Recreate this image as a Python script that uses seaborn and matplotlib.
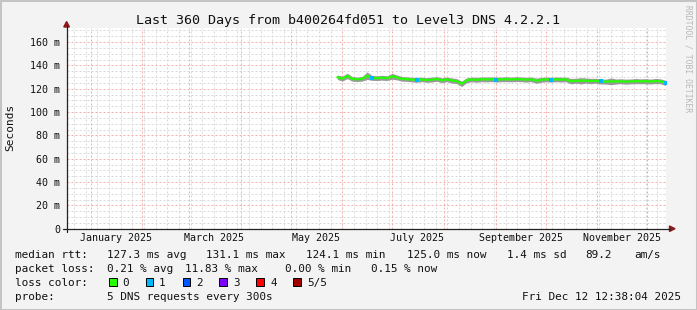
import numpy as np
import pandas as pd
import matplotlib
matplotlib.use("Agg")
import matplotlib.pyplot as plt
from matplotlib.patches import Rectangle, Polygon
from matplotlib.lines import Line2D
import seaborn as sns

# ---------------- data ----------------
title = "Last 360 Days from b400264fd051 to Level3 DNS 4.2.2.1"
period_start = "2024-12-17 12:38:04"
period_end = "2025-12-12 12:38:04"
data_start = "2025-05-29"
data_end = "2025-12-12"

median_ms = [129.8, 128.6, 130.9, 128.4, 128.0, 128.5, 131.1, 129.2, 129.0, 129.4,
             129.0, 130.6, 129.6, 128.4, 128.2, 127.8, 127.6, 127.9, 127.4, 127.8,
             128.3, 127.2, 128.0, 127.0, 126.5, 124.1, 127.2, 127.9, 127.6, 128.0,
             127.9, 128.1, 127.8, 128.0, 128.1, 127.9, 128.2, 128.0, 127.7, 128.0,
             126.8, 127.6, 127.9, 127.7, 128.0, 127.8, 127.9, 126.4, 126.9, 126.7,
             127.0, 126.5, 126.8, 126.2, 126.0, 126.3, 126.1, 126.4, 126.0, 126.2,
             126.5, 126.3, 126.4, 126.1, 126.6, 126.3, 125.0]
smoke_ms = [1.9, 2.1, 2.3, 2.0, 1.9, 2.0, 3.2, 2.1, 2.0, 2.1,
            2.0, 2.5, 2.1, 2.0, 1.9, 2.0, 2.1, 1.9, 2.0, 2.1,
            2.0, 2.1, 2.0, 2.2, 2.1, 2.3, 2.1, 2.0, 2.1, 2.0,
            2.1, 2.0, 2.1, 2.0, 2.1, 2.0, 2.1, 2.0, 2.1, 2.0,
            2.2, 2.1, 2.0, 2.1, 2.0, 2.1, 2.0, 2.3, 2.1, 2.7,
            2.2, 2.3, 2.1, 2.2, 2.1, 2.9, 2.2, 2.1, 2.2, 2.1,
            2.2, 2.1, 2.2, 2.1, 2.2, 2.1, 2.3]
loss_level = [0, 0, 0, 0, 0, 0, 0, 1, 0, 0,
              0, 0, 0, 0, 0, 0, 1, 0, 0, 0,
              0, 0, 0, 0, 0, 0, 0, 0, 0, 0,
              0, 0, 1, 0, 0, 0, 0, 0, 0, 0,
              0, 0, 0, 1, 0, 0, 0, 0, 0, 0,
              0, 0, 0, 1, 0, 0, 0, 0, 0, 0,
              0, 0, 0, 0, 0, 0, 1]

ytick_vals = [0, 20, 40, 60, 80, 100, 120, 140, 160]
ytick_labels = ["0", "20 m", "40 m", "60 m", "80 m", "100 m", "120 m", "140 m", "160 m"]
xtick_dates = ["2025-01-16", "2025-03-16", "2025-05-16", "2025-07-16", "2025-09-16", "2025-11-16"]
xtick_labels = ["January 2025", "March 2025", "May 2025", "July 2025", "September 2025", "November 2025"]

loss_names = ["0", "1", "2", "3", "4", "5/5"]
loss_colors = ["#26ff00", "#00b8ff", "#0059ff", "#7e00ff", "#ff0000", "#a00000"]

row_rtt = [("median rtt:", 16), ("127.3 ms avg", 107.7), ("131.1 ms max", 207.5),
           ("124.1 ms min", 307.5), ("125.0 ms now", 407.7), ("1.4 ms sd", 507.7),
           ("89.2", 586.5), ("am/s", 635)]
row_loss = [("packet loss:", 16), ("0.21 % avg", 107.7), ("11.83 % max", 186.5),
            ("0.00 % min", 286), ("0.15 % now", 372.3)]
row_probe = [("probe:", 16), ("5 DNS requests every 300s", 107.7)]
stamp = "Fri Dec 12 12:38:04 2025"
watermark = "RRDTOOL / TOBI OETIKER"

# ---------------- figure ----------------
W, H = 697, 310
sns.set_theme(style="white")
MONO = ["DejaVu Sans Mono", "DejaVu Sans"]
plt.rcParams["font.family"] = MONO

fig = plt.figure(figsize=(W / 100, H / 100), dpi=100, facecolor="#f3f3f3")

def fx(x):
    return x / W

def fy(y):
    return 1 - y / H

x_left, x_right = 66.6, 666.4
y_bottom, y_top = 228.7, 28.0
ax = fig.add_axes([fx(x_left), fy(y_bottom), (x_right - x_left) / W, (y_bottom - y_top) / H])
ax.set_facecolor("white")
for s in ax.spines.values():
    s.set_visible(False)

t0 = pd.Timestamp(period_start)
t1 = pd.Timestamp(period_end)
ax.set_xlim(t0, t1)
ax.set_ylim(0, 172)

# grid (dotted)
gkw = dict(lw=0.72, ls=(0, (2, 2)))
for d in pd.date_range("2024-12-22", "2025-12-12", freq="7D"):
    ax.axvline(d, color="#d9d9d9", zorder=0, **gkw)
for v in range(5, 172, 5):
    if v % 20:
        ax.axhline(v, color="#d9d9d9", zorder=0, **gkw)
for d in pd.date_range("2025-01-01", "2025-12-01", freq="MS"):
    ax.axvline(d, color="#f4b0b0", zorder=0.5, **gkw)
for v in range(20, 172, 20):
    ax.axhline(v, color="#f4b0b0", zorder=0.5, **gkw)

# data
dates = pd.date_range(data_start, data_end, periods=len(median_ms))
df = pd.DataFrame({"date": dates, "median": median_ms, "smoke": smoke_ms, "loss": loss_level})
ax.fill_between(df["date"], df["median"] - df["smoke"], df["median"] + df["smoke"],
                color="#999999", lw=0, zorder=2)
sns.lineplot(data=df, x="date", y="median", ax=ax, color=loss_colors[0], lw=1.6, zorder=3)
lossy = df[df["loss"] > 0]
sns.scatterplot(data=lossy, x="date", y="median", ax=ax, color=loss_colors[1], marker="s",
                s=7, linewidth=0, zorder=4)
ax.set_xlabel("")
ax.set_ylabel("")

# ticks
ax.set_yticks(ytick_vals)
ax.set_yticklabels(ytick_labels)
ax.set_xticks([pd.Timestamp(d) for d in xtick_dates])
ax.set_xticklabels(xtick_labels)
ax.tick_params(axis="y", length=0, pad=4.5, labelsize=7.2, labelcolor="#111111")
ax.tick_params(axis="x", length=0, pad=3.0, labelsize=7.2, labelcolor="#111111")

# axes lines with arrows
fig.add_artist(Line2D([fx(63), fx(670)], [fy(228.7), fy(228.7)], color="#222222", lw=0.9))
fig.add_artist(Line2D([fx(66.6), fx(66.6)], [fy(232), fy(26)], color="#222222", lw=0.9))
fig.add_artist(Polygon([[fx(669.5), fy(226)], [fx(669.5), fy(231.5)], [fx(675), fy(228.7)]],
                       closed=True, color="#8b1a1a"))
fig.add_artist(Polygon([[fx(63.8), fy(27)], [fx(69.4), fy(27)], [fx(66.6), fy(21.5)]],
                       closed=True, color="#8b1a1a"))

# texts
fig.text(fx(348.5), fy(24), title, ha="center", va="baseline", fontsize=9.6, color="#111111")
fig.text(fx(10.5), fy(127), "Seconds", rotation=90, ha="center", va="center", fontsize=8, color="#111111")
fig.text(fx(688), fy(5), watermark, rotation=270, ha="center", va="top", fontsize=5.8, color="#b8b8b8")

def row(items, y):
    for s, x in items:
        fig.text(fx(x - 1), fy(y), s, ha="left", va="baseline", fontsize=7.95, color="#111111")

row(row_rtt, 258)
row(row_loss, 272)
row([("loss color:", 16)], 286)
row(row_probe, 300)
fig.text(fx(680.5), fy(300), stamp, ha="right", va="baseline", fontsize=7.95, color="#111111")

sq_x = [109, 145.7, 182.7, 219.3, 256, 293.3]
lab_x = [123, 160, 197, 234, 271.7, 308.3]
for name, col, sx, lx in zip(loss_names, loss_colors, sq_x, lab_x):
    fig.add_artist(Rectangle((fx(sx), fy(286)), 7.5 / W, 8.5 / H, facecolor=col,
                             edgecolor="#000000", lw=0.7))
    fig.text(fx(lx - 1), fy(286), name, ha="left", va="baseline", fontsize=7.95, color="#111111")

# canvas border
fig.add_artist(Rectangle((0, 0), 1, 1, fill=False, edgecolor="#c4c4c4", lw=2.2,
                         transform=fig.transFigure))

fig.savefig("out.png", dpi=100, facecolor=fig.get_facecolor())
